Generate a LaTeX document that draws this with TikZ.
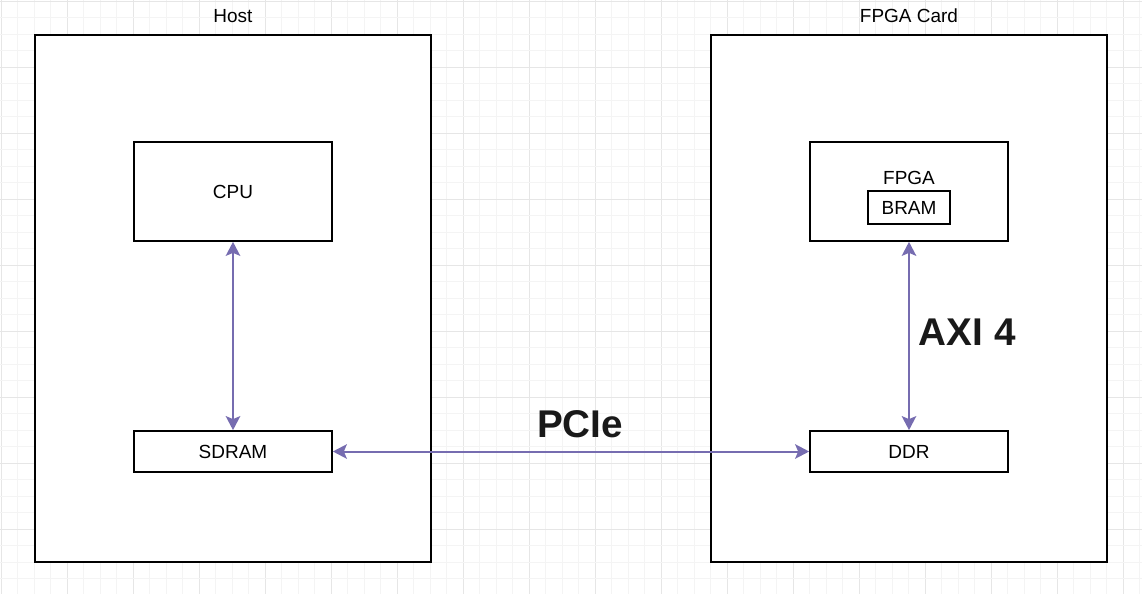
\documentclass[tikz,border=0pt]{standalone}
\usepackage{fontspec}
\setmainfont{Liberation Sans}
\usetikzlibrary{arrows.meta,positioning}
\definecolor{gridMinor}{HTML}{F4F4F4}
\definecolor{gridMajor}{HTML}{E6E6E6}
\definecolor{linkPurple}{RGB}{118,108,176}
\tikzstyle{outerBox} = [rectangle, draw=black, fill=white, line width=0.035cm, minimum width=7.92cm, minimum height=10.54cm]
\tikzstyle{recNode} = [rectangle, draw=black, fill=white, line width=0.035cm, minimum width=3.96cm, text centered, font=\fontsize{10.8}{13}\selectfont]
\tikzstyle{eNode} = [text centered, font=\fontsize{10.8}{13}\selectfont]
\tikzstyle{bigLabel} = [font=\fontsize{22}{26}\selectfont\bfseries, text=black!90]
\tikzstyle{arrowP} = [line width=0.04cm, <->, >={Stealth[length=0.28cm,width=0.29cm,inset=0.06cm]}, draw=linkPurple]

\begin{document}
\begin{tikzpicture}[x=0.02cm, y=-0.02cm]
    \useasboundingbox (0,0) rectangle (1142,594);
    % background grid
    \foreach \i in {0,...,69} {
        \pgfmathsetmacro{\gx}{1.3+16.5*\i}
        \ifnum\numexpr\i-4*(\i/4)\relax=0 \def\gc{gridMajor}\else \def\gc{gridMinor}\fi
        \draw[\gc, line width=0.02cm] (\gx,0) -- (\gx,594);
    }
    \foreach \i in {0,...,35} {
        \pgfmathsetmacro{\gy}{1.3+16.5*\i}
        \ifnum\numexpr\i-4*(\i/4)\relax=0 \def\gc{gridMajor}\else \def\gc{gridMinor}\fi
        \draw[\gc, line width=0.02cm] (0,\gy) -- (1142,\gy);
    }

    \node (host) [outerBox] at (233,298.5) {};
    \node (card) [outerBox] at (909,298.5) {};
    \node (hostLbl) [eNode] at (233,16) {Host};
    \node (cardLbl) [eNode] at (909,16) {FPGA Card};

    \node (cpu) [recNode, minimum height=1.98cm] at (233,191.5) {CPU};
    \node (sdram) [recNode, minimum height=0.82cm] at (233,451.5) {SDRAM};
    \node (fpga) [recNode, minimum height=1.98cm] at (909,191.5) {};
    \node (fpgaLbl) [eNode] at (909,178) {FPGA};
    \node (bram) [recNode, minimum width=1.64cm, minimum height=0.66cm] at (909,207.5) {BRAM};
    \node (ddr) [recNode, minimum height=0.82cm] at (909,451.5) {DDR};

    \draw [arrowP] (cpu) -- (sdram);
    \draw [arrowP] (sdram) -- node[above, bigLabel, xshift=0.18cm, yshift=0.14cm] {PCIe} (ddr);
    \draw [arrowP] (fpga) -- node[right, bigLabel, xshift=0.06cm, yshift=0.08cm] {AXI 4} (ddr);
\end{tikzpicture}
\end{document}
